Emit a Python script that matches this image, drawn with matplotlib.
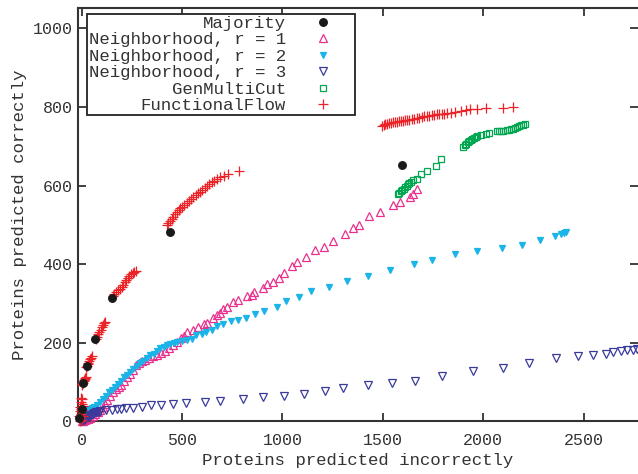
import matplotlib
matplotlib.use("Agg")
import matplotlib.pyplot as plt

# ---- data (x = incorrect, y = correct) ----
maj_x = [-15, 0, 8, 25, 66, 152, 438, 1596]
maj_y = [10, 33, 98, 141, 210, 314, 481, 652]

n1_x = [0, 8, 18, 30, 42, 55, 68, 80, 92, 104, 116, 128, 142, 156, 170, 184, 198,
        212, 226, 240, 255, 270, 285, 300, 318, 336, 355, 375, 395, 415, 435, 455,
        475, 495, 510, 524, 557, 582, 607, 623, 656, 673, 690, 706, 723, 756, 781,
        823, 848, 859, 902, 925, 955, 985, 1008, 1047, 1075, 1115, 1161, 1206, 1254,
        1312, 1350, 1380, 1433, 1487, 1550, 1585, 1633, 1652, 1669]
n1_y = [0, 2, 4, 7, 10, 14, 19, 24, 29, 36, 45, 55, 66, 75, 82, 87, 94,
        103, 112, 122, 132, 143, 150, 154, 157, 161, 166, 170, 174, 180, 186, 195,
        203, 212, 218, 228, 234, 240, 247, 251, 264, 270, 276, 285, 291, 303, 308,
        318, 321, 329, 340, 349, 355, 364, 379, 395, 406, 419, 436, 444, 459,
        476, 492, 499, 522, 533, 550, 558, 570, 578, 591]

n2_x = [0, 6, 14, 24, 36, 50, 62, 75, 90, 105, 120, 135, 150, 165, 180, 195, 210,
        225, 242, 258, 275, 292, 308, 325, 342, 358, 375, 392, 410, 425, 441, 458,
        475, 499, 524, 549, 570, 599, 620, 648, 676, 706, 743, 781, 819, 864, 909,
        972, 1018, 1083, 1143, 1231, 1321, 1425, 1535, 1654, 1744, 1859, 1970, 2094,
        2194, 2283, 2360, 2386, 2403, 2413]
n2_y = [5, 14, 22, 28, 32, 35, 38, 43, 50, 58, 66, 74, 81, 88, 96, 104, 112,
        119, 126, 133, 142, 150, 155, 162, 168, 172, 180, 186, 190, 194, 198, 200,
        202, 204, 207, 211, 219, 223, 228, 232, 242, 249, 256, 259, 264, 273, 280,
        291, 307, 317, 331, 342, 357, 369, 385, 400, 410, 427, 434, 441,
        449, 461, 471, 476, 480, 482]

n3_x = [0, 4, 8, 13, 18, 24, 30, 36, 42, 48, 55, 62, 70, 78, 86, 92, 122, 150,
        175, 195, 222, 258, 300, 345, 396, 454, 520, 613, 690, 806, 905, 1008, 1108,
        1213, 1304, 1425, 1546, 1659, 1795, 1948, 2098, 2230, 2363, 2473, 2546, 2611,
        2648, 2685, 2718, 2748, 2765]
n3_y = [0, 1, 3, 5, 7, 9, 11, 13, 15, 17, 19, 21, 23, 24, 25, 26, 28, 30,
        31, 31, 34, 35, 37, 42, 43, 45, 47, 49, 53, 57, 62, 65, 70,
        77, 86, 92, 98, 104, 115, 128, 136, 148, 161, 166, 168, 172,
        176, 180, 183, 183, 185]

gmc_x = [1577, 1583, 1590, 1597, 1604, 1611, 1618, 1625, 1632, 1640, 1652, 1672,
         1690, 1720, 1763, 1789, 1901, 1908, 1915, 1922, 1930, 1938, 1946, 1954,
         1962, 1970, 1990, 2014, 2030, 2070, 2080, 2090, 2100, 2117, 2130, 2140,
         2150, 2160, 2170, 2180, 2190, 2200, 2208]
gmc_y = [578, 582, 586, 589, 592, 596, 600, 603, 606, 609, 614, 616,
         630, 638, 650, 668, 699, 703, 707, 710, 713, 716, 719, 722,
         724, 726, 729, 731, 733, 738, 739, 740, 740, 741, 742, 743,
         745, 747, 749, 751, 753, 755, 757]

ff_x = [-10, -6, -12, -4, -9, -2, -7, 0, -5, 2, -3, 4, 6, 3, 5,
        1, 4, 7, 10, 13, 16, 19, 22,
        22, 26, 30, 34, 38, 42, 47, 52,
        70, 76, 82, 88, 94, 100, 106, 112, 117,
        155, 162, 170, 180, 190, 200, 208, 215, 222, 230, 238, 246, 254, 262, 270,
        424, 432, 440, 448, 457, 466, 475, 484, 491, 500, 510, 524, 535, 546, 557,
        568, 579, 590, 601, 612, 624, 636, 648, 660, 673, 690, 710, 731, 786,
        1495, 1505, 1512, 1520, 1530, 1540, 1550, 1560, 1570, 1580, 1590, 1600,
        1610, 1620, 1632, 1645, 1657, 1669, 1681, 1694, 1706, 1719, 1731, 1744,
        1756, 1769, 1781, 1794, 1806, 1819, 1840, 1860, 1888, 1912, 1935, 1968,
        2014, 2098, 2147]
ff_y = [2, 8, 14, 20, 26, 32, 38, 44, 50, 56, 60, 5, 15, 28, 40,
        93, 96, 99, 102, 105, 108, 111, 113,
        138, 142, 146, 150, 154, 158, 162, 166,
        210, 216, 222, 228, 234, 240, 245, 250, 254,
        318, 324, 329, 334, 338, 342, 348, 354, 360, 366, 371, 375, 378, 381, 384,
        500, 506, 511, 516, 521, 527, 533, 538, 542, 546, 551, 556, 561, 566, 571,
        575, 580, 584, 589, 594, 599, 605, 610, 613, 616, 621, 625, 629, 638,
        752, 754, 756, 758, 759, 760, 761, 762, 763, 764, 765, 765,
        766, 767, 768, 769, 770, 771, 773, 774, 776, 777, 778, 779,
        780, 781, 782, 783, 783, 784, 785, 787, 790, 792, 794, 795,
        797, 797, 801]

TXT = "#333333"
plt.rcParams["font.family"] = ["Liberation Mono", "DejaVu Sans Mono"]
plt.rcParams["font.size"] = 12

fig = plt.figure(figsize=(6.38, 4.74), dpi=100)
ax = fig.add_axes([0.1223, 0.1108, 0.8777, 0.8724])

kw = dict(ls="none", clip_on=False, markeredgewidth=0.9)
ax.plot(maj_x, maj_y, marker="o", ms=5.5, color="#1a1a1a", label="Majority", zorder=6, **kw)
ax.plot(n1_x, n1_y, marker="^", ms=5.5, color="#e8308c", mfc="none",
        label="Neighborhood, r = 1", zorder=3, **kw)
ax.plot(n2_x, n2_y, marker="v", ms=5, color="#1ab4e8",
        label="Neighborhood, r = 2", zorder=4, **kw)
ax.plot(n3_x, n3_y, marker="v", ms=5.5, color="#3a3a9c", mfc="none",
        label="Neighborhood, r = 3", zorder=4, **kw)
ax.plot(gmc_x, gmc_y, marker="s", ms=5, color="#00a651", mfc="none",
        label="GenMultiCut", zorder=5, **kw)
ax.plot(ff_x, ff_y, marker="+", ms=7, color="#ec2226",
        label="FunctionalFlow", zorder=5, **kw)

ax.set_xlim(-18, 2771)
ax.set_ylim(0, 1052)
ax.set_xticks([0, 500, 1000, 1500, 2000, 2500])
ax.set_yticks([0, 200, 400, 600, 800, 1000])
ax.tick_params(direction="in", length=6, width=1.3, top=True, right=True,
               colors=TXT, labelsize=12)
ax.tick_params(axis="x", pad=8)
ax.tick_params(axis="y", pad=4)
for side, sp in ax.spines.items():
    sp.set_linewidth(1.5)
    sp.set_color(TXT)
ax.spines["right"].set_visible(False)

ax.set_xlabel("Proteins predicted incorrectly", color=TXT, fontsize=12.5, labelpad=4)
ax.set_ylabel("Proteins predicted correctly", color=TXT, fontsize=12.5, labelpad=4)

leg = ax.legend(loc="upper right", bbox_to_anchor=(0.495, 0.986), markerfirst=False,
                fancybox=False, framealpha=1, edgecolor="#222222", fontsize=12.5,
                borderpad=0.1, labelspacing=0.08, handlelength=3.5, handletextpad=0.38,
                borderaxespad=0, numpoints=1)
leg.get_frame().set_linewidth(1.3)
for t in leg.get_texts():
    t.set_color(TXT)

fig.savefig("out.png", dpi=100)
